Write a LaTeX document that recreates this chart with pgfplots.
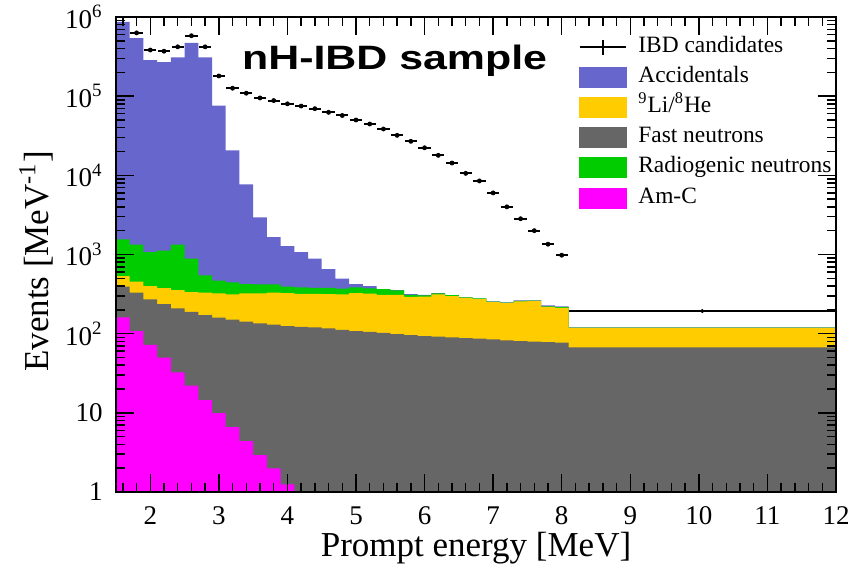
\documentclass[border=0pt]{standalone}
\usepackage{fontspec}
\setmainfont{Liberation Serif}
\newfontfamily\titlefont{Liberation Sans}
\usepackage{graphicx}
\usepackage{pgfplots}
\pgfplotsset{compat=1.18}
\usepackage{pgfplotstable}
\definecolor{acc}{HTML}{6666CC}
\definecolor{rad}{HTML}{00CC00}
\definecolor{li}{HTML}{FFCC00}
\definecolor{fn}{HTML}{666666}
\definecolor{amc}{HTML}{FF00FF}

% cumulative stack tops per bin (left edge), last bin 8.1-12
\pgfplotstableread{
x acc rad li fn amc
1.5 0.5 0.5 0.5 0.5 0.5
1.5 870000 1550 535 392 161
1.7 540000 1330 454 329 108
1.9 286000 1070 400 272 72
2.1 270000 1120 377 237 50
2.3 310000 1330 356 209 32.5
2.5 470000 885 336 188 22
2.7 310000 546 329 172 14.5
2.9 76000 467 324 159 9.9
3.1 20700 446 314 150 6.6
3.3 7700 424 324 142 4.4
3.5 2950 420 324 135 2.93
3.7 1660 420 329 130 1.99
3.9 1280 392 325 125 1.25
4.1 1070 385 318 122 0.5
4.3 885 380 318 120 0.5
4.5 656 380 316 117 0.5
4.7 497 372 314 112 0.5
4.9 422 385 326 108 0.5
5.1 398 374 320 105 0.5
5.3 366 366 310 102 0.5
5.5 354 353 310 99 0.5
5.7 315 308 291 96 0.5
5.9 309 305 293 93.4 0.5
6.1 326 324 314 91.6 0.5
6.3 302 306 299 90 0.5
6.5 287 288 283 88 0.5
6.7 278 279 274 86.4 0.5
6.9 256 254 251 84.8 0.5
7.1 249 247 244 82.4 0.5
7.3 264 260 256 80.8 0.5
7.5 264 261 258 79.5 0.5
7.7 227 222 218 78.5 0.5
7.9 221 216 212 77 0.5
8.1 120 119 118 67 0.5
12 120 119 118 67 0.5
12 0.5 0.5 0.5 0.5 0.5
}\bkg

\pgfplotstableread{
x y
1.8 630000
2.0 383000
2.2 370000
2.4 420000
2.6 580000
2.8 420000
3.0 180000
3.2 126000
3.4 109000
3.6 95000
3.8 88000
4.0 80000
4.2 75000
4.4 69500
4.6 62500
4.8 57000
5.0 50000
5.2 44500
5.4 38500
5.6 32000
5.8 26900
6.0 22300
6.2 17900
6.4 14300
6.6 10600
6.8 8500
7.0 6000
7.2 4000
7.4 2830
7.6 2000
7.8 1350
8.0 980
}\ibd

\begin{document}
\begin{tikzpicture}
\begin{axis}[
  at={(0,0)}, anchor=south west,
  scale only axis, width=360pt, height=237.5pt,
  ymode=log, xmin=1.5, xmax=12, ymin=1, ymax=1e6,
  axis on top,
  axis line style={line width=0.9pt},
  tick style={line width=0.75pt, black},
  major tick length=9pt, minor tick length=4.5pt,
  tick align=inside, xtick pos=both, ytick pos=both,
  xticklabel pos=bottom, yticklabel pos=left,
  xtick={2,3,4,5,6,7,8,9,10,11,12},
  xticklabels={2,3,4,5,6,7,8,9,10,11,12},
  minor xtick={1.6,1.8,2.2,2.4,2.6,2.8,3.2,3.4,3.6,3.8,4.2,4.4,4.6,4.8,5.2,5.4,5.6,5.8,6.2,6.4,6.6,6.8,7.2,7.4,7.6,7.8,8.2,8.4,8.6,8.8,9.2,9.4,9.6,9.8,10.2,10.4,10.6,10.8,11.2,11.4,11.6,11.8},
  ytick={1,10,100,1000,10000,100000,1000000},
  yticklabels={1,10,10\textsuperscript{2},10\textsuperscript{3},10\textsuperscript{4},10\textsuperscript{5},10\textsuperscript{6}},
  minor ytick={2,3,4,5,6,7,8,9,20,30,40,50,60,70,80,90,200,300,400,500,600,700,800,900,2000,3000,4000,5000,6000,7000,8000,9000,20000,30000,40000,50000,60000,70000,80000,90000,200000,300000,400000,500000,600000,700000,800000,900000},
  ticklabel style={font=\fontsize{13.5}{13.5}\selectfont, inner sep=0pt},
  xticklabel style={yshift=-7.3pt},
  yticklabel style={xshift=-6.5pt},
  xlabel={Prompt energy [MeV]},
  ylabel={Events [MeV\textsuperscript{-1}]},
  label style={font=\fontsize{17.5}{17.5}\selectfont, inner sep=0pt},
  xlabel style={at={(axis description cs:0.5,0)}, anchor=base, yshift=-32.2pt},
  ylabel style={at={(axis description cs:-0.0944,0.4853)}, anchor=base},
  legend style={at={(0.6422,0.9694)}, anchor=north west, draw=none, fill=none,
    inner sep=0pt, font=\fontsize{11.7}{11.7}\selectfont, row sep=0pt, column sep=5.5pt,
    nodes={inner sep=0pt, text height=10.1pt, text depth=5pt}},
  legend cell align=left,
]
\addlegendimage{legend image code/.code={\draw[line width=1pt] (0pt,0pt)--(23.3pt,0pt); \draw[line width=1pt] (11.65pt,-3.75pt)--(11.65pt,3.75pt);}}
\addlegendentry{IBD candidates}
\addlegendimage{legend image code/.code={\fill[acc] (0pt,-5pt) rectangle (23.3pt,5pt);}}
\addlegendentry{Accidentals}
\addlegendimage{legend image code/.code={\fill[li] (0pt,-5pt) rectangle (23.3pt,5pt);}}
\addlegendentry{\textsuperscript{9}Li/\textsuperscript{8}He}
\addlegendimage{legend image code/.code={\fill[fn] (0pt,-5pt) rectangle (23.3pt,5pt);}}
\addlegendentry{Fast neutrons}
\addlegendimage{legend image code/.code={\fill[rad] (0pt,-5pt) rectangle (23.3pt,5pt);}}
\addlegendentry{Radiogenic neutrons}
\addlegendimage{legend image code/.code={\fill[amc] (0pt,-5pt) rectangle (23.3pt,5pt);}}
\addlegendentry{Am-C}

\addplot[const plot, fill=acc, draw=none, forget plot] table[x=x,y=acc] {\bkg};
\addplot[const plot, fill=rad, draw=none, forget plot] table[x=x,y=rad] {\bkg};
\addplot[const plot, fill=li, draw=none, forget plot] table[x=x,y=li] {\bkg};
\addplot[const plot, fill=fn, draw=none, forget plot] table[x=x,y=fn] {\bkg};
\addplot[const plot, fill=amc, draw=none, forget plot] table[x=x,y=amc] {\bkg};

\addplot[only marks, mark=*, mark size=1pt, black, forget plot,
  error bars/.cd, x dir=both, x fixed=0.09, error mark=none,
  error bar style={line width=1pt}] table[x=x,y=y] {\ibd};
\addplot[only marks, mark=*, mark size=0.8pt, black, forget plot,
  error bars/.cd, x dir=both, x fixed=1.95, error mark=none,
  error bar style={line width=1pt}] coordinates {(10.05,193)};

\node[anchor=base west, inner sep=0pt] at (rel axis cs:0.1746,0.8899)
  {\resizebox{152.5pt}{\height}{\titlefont\bfseries\fontsize{16.9}{16.9}\selectfont nH-IBD sample}};
\end{axis}
\pgfresetboundingbox
\path[use as bounding box] (-58pt,-36pt) rectangle (373pt,246pt);
\end{tikzpicture}
\end{document}
